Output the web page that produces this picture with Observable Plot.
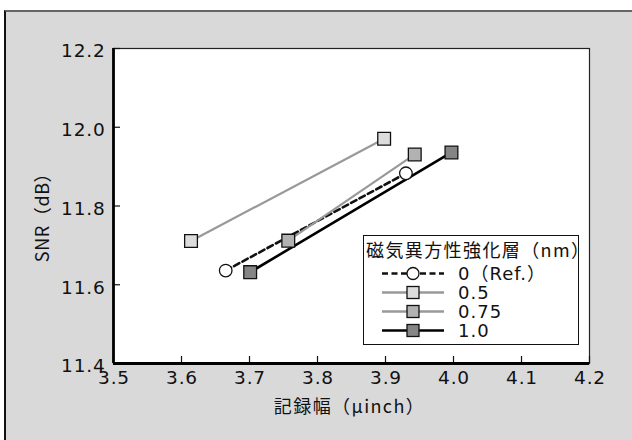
<!DOCTYPE html>
<html>
<head>
<meta charset="utf-8">
<script src="https://cdn.jsdelivr.net/npm/d3@7"></script>
<script src="https://cdn.jsdelivr.net/npm/@observablehq/plot@0.6"></script>
<style>
  html, body { margin: 0; padding: 0; background: #fff; }
  #wrap { position: relative; width: 632px; height: 440px; overflow: hidden; font-family: 'DejaVu Sans', 'Noto Sans CJK JP', sans-serif; }
  #panel { position: absolute; left: 4px; top: 10px; right: 0; bottom: 0; background: #d9d9d9; border-left: 2px solid #111; border-top: 2px solid #666; }
  #chart { position: absolute; left: 0; top: 0; }
  #legend { position: absolute; left: 363px; top: 235px; width: 214px; height: 108px; background: #fff; border: 1.5px solid #111; color: #111; }
  #legend .title { position: absolute; left: 2px; top: 3px; font-family: 'Noto Sans CJK JP', sans-serif; font-size: 18px; line-height: 20px; letter-spacing: 1.4px; white-space: nowrap; text-spacing-trim: space-all; }
  #legend .row { position: absolute; left: 18px; height: 19px; display: flex; align-items: center; }
  #legend .row span { margin-left: 14px; font-size: 18px; line-height: 19px; letter-spacing: 1px; white-space: nowrap; }
  #chart g[aria-label="x-axis tick label"] text, #chart g[aria-label="y-axis tick label"] text { letter-spacing: 0.8px; }
  #chart .xtitle text { letter-spacing: 1.4px; text-spacing-trim: space-all; }
  #chart .ytitle text { letter-spacing: 0.6px; }
</style>
</head>
<body>
<div id="wrap">
  <div id="panel"></div>
  <div id="chart"></div>
  <div id="legend"></div>
</div>
<script>
// Series names
const seriesNames = ["0（Ref.）", "0.5", "0.75", "1.0"];
// Recording width (μinch) per series
const x0 = [3.665, 3.930];
const x05 = [3.614, 3.898];
const x075 = [3.757, 3.943];
const x10 = [3.701, 3.997];
// SNR (dB) per series
const y0 = [11.636, 11.883];
const y05 = [11.711, 11.971];
const y075 = [11.712, 11.931];
const y10 = [11.632, 11.936];
// Tick labels
const xTicks = [3.5, 3.6, 3.7, 3.8, 3.9, 4.0, 4.1, 4.2];
const yTicks = [11.4, 11.6, 11.8, 12.0, 12.2];

const styles = [
  {stroke: "#111", dash: "6,3.5", symbol: "circle", fill: "#fff", r: 6.3},
  {stroke: "#999", dash: null, symbol: "square", fill: "#dcdcdc", r: 7.2},
  {stroke: "#999", dash: null, symbol: "square", fill: "#b2b2b2", r: 7.2},
  {stroke: "#000", dash: null, symbol: "square", fill: "#858585", r: 7.2}
];
const xs = [x0, x05, x075, x10];
const ys = [y0, y05, y075, y10];
const data = seriesNames.map((s, i) => xs[i].map((x, j) => ({series: s, x, y: ys[i][j]})));

const W = 632, H = 440;
const mL = 113, mR = 43, mT = 48, mB = 77;
const innerW = W - mL - mR, innerH = H - mT - mB;
const font = "'DejaVu Sans', 'Noto Sans CJK JP', sans-serif";
const cjkFont = "'Noto Sans CJK JP', sans-serif";

const lineMarks = data.map((d, i) => Plot.line(d, {
  x: "x", y: "y", stroke: styles[i].stroke, strokeWidth: (i === 0 || i === 3) ? 2.6 : 2.2,
  strokeDasharray: styles[i].dash
}));
const dotMarks = data.map((d, i) => Plot.dot(d, {
  x: "x", y: "y", symbol: styles[i].symbol, r: styles[i].r, fill: styles[i].fill, stroke: "#111", strokeWidth: 1.3
}));

const chart = Plot.plot({
  width: W, height: H,
  marginLeft: mL, marginRight: mR, marginTop: mT, marginBottom: mB,
  x: {domain: [3.5, 4.2]},
  y: {domain: [11.4, 12.2]},
  style: {background: "transparent", fontFamily: font, color: "#111", overflow: "visible"},
  marks: [
    Plot.frame({fill: "#fff", stroke: "#222", strokeWidth: 1.2}),
    Plot.ruleX(xTicks, {x: d => d, insetTop: innerH - 7, stroke: "#111", strokeWidth: 1.2}),
    Plot.ruleY(yTicks, {y: d => d, insetRight: innerW - 7, stroke: "#111", strokeWidth: 1.2}),
    Plot.ruleX([3.5], {stroke: "#000", strokeWidth: 2.8}),
    Plot.ruleY([11.4], {stroke: "#000", strokeWidth: 2.8}),
    Plot.axisX({ticks: xTicks, tickSize: 0, tickPadding: 7, tickFormat: d => d.toFixed(1), fontSize: 18.5, label: null, dx: 0.5}),
    Plot.axisY({ticks: yTicks, tickSize: 0, tickPadding: 8, tickFormat: d => d.toFixed(1), fontSize: 18.5, label: null, dy: 3}),
    Plot.text(["記録幅（μinch）"], {frameAnchor: "bottom", textAnchor: "middle", lineAnchor: "middle", dy: 44, dx: -2, fontSize: 18, fontFamily: cjkFont, className: "xtitle", text: d => d}),
    Plot.text(["SNR（dB）"], {frameAnchor: "left", textAnchor: "middle", lineAnchor: "middle", rotate: -90, dx: -70, dy: 7, fontSize: 18, fontFamily: cjkFont, className: "ytitle", text: d => d}),
    ...lineMarks,
    ...dotMarks
  ]
});
document.getElementById("chart").appendChild(chart);

// Legend
const legend = document.getElementById("legend");
const title = document.createElement("div");
title.className = "title";
title.textContent = "磁気異方性強化層（nm）";
legend.appendChild(title);
const rowTops = [28, 47, 66, 85];
seriesNames.forEach((name, i) => {
  const row = document.createElement("div");
  row.className = "row";
  row.style.top = rowTops[i] + "px";
  const s = styles[i];
  const svg = d3.create("svg").attr("width", 62).attr("height", 19);
  svg.append("line").attr("x1", 0).attr("x2", 62).attr("y1", 9.5).attr("y2", 9.5)
    .attr("stroke", s.stroke).attr("stroke-width", 2.6).attr("stroke-dasharray", s.dash);
  if (s.symbol === "circle") {
    svg.append("circle").attr("cx", 31).attr("cy", 9.5).attr("r", 6).attr("fill", s.fill).attr("stroke", "#111").attr("stroke-width", 1.3);
  } else {
    svg.append("rect").attr("x", 25).attr("y", 3.5).attr("width", 12).attr("height", 12).attr("fill", s.fill).attr("stroke", "#111").attr("stroke-width", 1.3);
  }
  row.appendChild(svg.node());
  const lab = document.createElement("span");
  lab.textContent = name;
  row.appendChild(lab);
  legend.appendChild(row);
});
</script>
</body>
</html>
